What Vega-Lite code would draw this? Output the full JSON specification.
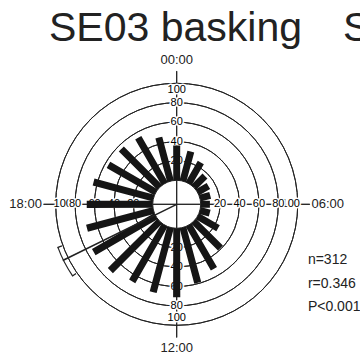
{
  "$schema": "https://vega.github.io/schema/vega-lite/v6.json",
  "width": 353.4,
  "height": 288.6,
  "autosize": {"type": "none"},
  "padding": {"left": 0, "top": 60, "right": 6.6, "bottom": 9.4},
  "background": "white",
  "title": {"text": "SE03 basking\u2002\u2002S", "anchor": "start", "frame": "group", "dx": 49, "fontSize": 41, "font": "Liberation Sans", "fontWeight": "normal", "color": "#222", "baseline": "alphabetic", "offset": -28},
  "config": {"view": {"stroke": null}, "font": "Liberation Sans"},
  "datasets": {
    "bars": [
      {"hour": 0, "value": 36}, {"hour": 1, "value": 31.5}, {"hour": 2, "value": 25}, {"hour": 3, "value": 16.5},
      {"hour": 4, "value": 13}, {"hour": 5, "value": 11}, {"hour": 6, "value": 9.5}, {"hour": 7, "value": 10.5},
      {"hour": 8, "value": 24.5}, {"hour": 9, "value": 39}, {"hour": 10, "value": 52}, {"hour": 11, "value": 59},
      {"hour": 12, "value": 71}, {"hour": 13, "value": 69}, {"hour": 14, "value": 67}, {"hour": 15, "value": 72},
      {"hour": 16, "value": 74}, {"hour": 17, "value": 71}, {"hour": 18, "value": 68}, {"hour": 19, "value": 64},
      {"hour": 20, "value": 56.5}, {"hour": 21, "value": 56}, {"hour": 22, "value": 54.5}, {"hour": 23, "value": 46.5}
    ],
    "rings": [{"ring": 20}, {"ring": 40}, {"ring": 60}, {"ring": 80}, {"ring": 100}],
    "axes": [{"hour": 0}, {"hour": 6}, {"hour": 12}, {"hour": 18}],
    "ringlabels": [
      {"hour": 0, "ring": 20}, {"hour": 0, "ring": 40}, {"hour": 0, "ring": 60}, {"hour": 0, "ring": 80}, {"hour": 0, "ring": 100},
      {"hour": 6, "ring": 20}, {"hour": 6, "ring": 40}, {"hour": 6, "ring": 60}, {"hour": 6, "ring": 80}, {"hour": 6, "ring": 100},
      {"hour": 12, "ring": 20}, {"hour": 12, "ring": 40}, {"hour": 12, "ring": 60}, {"hour": 12, "ring": 80}, {"hour": 12, "ring": 100},
      {"hour": 18, "ring": 20}, {"hour": 18, "ring": 40}, {"hour": 18, "ring": 60}, {"hour": 18, "ring": 80}, {"hour": 18, "ring": 100}
    ],
    "hourlabels": [{"hour": 0, "label": "00:00"}, {"hour": 6, "label": "06:00"}, {"hour": 12, "label": "12:00"}, {"hour": 18, "label": "18:00"}],
    "mean": [{"mean": 16.25, "lo": 15.7, "hi": 16.67}]
  },
  "layer": [
    {
      "data": {"name": "rings"},
      "mark": {"type": "arc", "theta": 0, "theta2": 6.2832, "filled": false, "stroke": "#222", "strokeWidth": 1},
      "encoding": {
        "radius": {"field": "ring", "type": "quantitative", "scale": {"type": "linear", "domain": [0, 100], "range": [24, 121], "zero": false, "nice": false}},
        "radius2": {"field": "ring"}
      }
    },
    {
      "data": {"name": "axes"},
      "mark": {"type": "arc", "thetaOffset": -0.0005, "theta2Offset": 0.0005, "fill": "#222", "stroke": "#222", "strokeWidth": 1},
      "encoding": {
        "theta": {"field": "hour", "type": "quantitative", "stack": null, "scale": {"type": "linear", "domain": [0, 24], "range": [0, 6.283185307179586], "zero": true, "nice": false}},
        "theta2": {"field": "hour"},
        "radius": {"datum": 112.5, "type": "quantitative"},
        "radius2": {"value": 0}
      }
    },
    {
      "data": {"name": "ringlabels"},
      "transform": [{"filter": "datum.ring == 100"}],
      "mark": {"type": "text", "fontSize": 11, "fill": "white", "stroke": "white", "strokeWidth": 3, "strokeJoin": "round", "radiusOffset": -7},
      "encoding": {
        "theta": {"field": "hour", "type": "quantitative", "stack": null},
        "radius": {"field": "ring", "type": "quantitative"},
        "text": {"field": "ring", "type": "quantitative"}
      }
    },
    {
      "data": {"name": "ringlabels"},
      "transform": [{"filter": "datum.ring == 100"}],
      "mark": {"type": "text", "fontSize": 11, "color": "black", "fill": "black", "strokeWidth": 0, "radiusOffset": -7},
      "encoding": {
        "theta": {"field": "hour", "type": "quantitative", "stack": null},
        "radius": {"field": "ring", "type": "quantitative"},
        "text": {"field": "ring", "type": "quantitative"}
      }
    },
    {
      "data": {"name": "ringlabels"},
      "transform": [{"filter": "datum.ring < 100"}],
      "mark": {"type": "text", "fontSize": 11, "fill": "white", "stroke": "white", "strokeWidth": 3, "strokeJoin": "round"},
      "encoding": {
        "theta": {"field": "hour", "type": "quantitative", "stack": null},
        "radius": {"field": "ring", "type": "quantitative"},
        "text": {"field": "ring", "type": "quantitative"}
      }
    },
    {
      "data": {"name": "ringlabels"},
      "transform": [{"filter": "datum.ring < 100"}],
      "mark": {"type": "text", "fontSize": 11, "color": "black", "fill": "black", "strokeWidth": 0},
      "encoding": {
        "theta": {"field": "hour", "type": "quantitative", "stack": null},
        "radius": {"field": "ring", "type": "quantitative"},
        "text": {"field": "ring", "type": "quantitative"}
      }
    },
    {
      "data": {"name": "hourlabels"},
      "transform": [{"filter": "datum.hour == 0 || datum.hour == 12"}],
      "mark": {"type": "text", "fontSize": 13, "fill": "#222"},
      "encoding": {
        "theta": {"field": "hour", "type": "quantitative", "stack": null},
        "radius": {"datum": 123.7, "type": "quantitative"},
        "text": {"field": "label"}
      }
    },
    {
      "data": {"name": "hourlabels"},
      "transform": [{"filter": "datum.hour == 6 || datum.hour == 18"}],
      "mark": {"type": "text", "fontSize": 13, "fill": "#222"},
      "encoding": {
        "theta": {"field": "hour", "type": "quantitative", "stack": null},
        "radius": {"datum": 131, "type": "quantitative"},
        "text": {"field": "label"}
      }
    },
    {
      "data": {"name": "bars"},
      "mark": {"type": "arc", "thetaOffset": -0.002, "theta2Offset": 0.002, "fill": "#151515", "stroke": "#151515", "strokeWidth": 6.8, "strokeJoin": "miter", "radiusOffset": -3.4},
      "encoding": {
        "theta": {"field": "hour", "type": "quantitative", "stack": null},
        "theta2": {"field": "hour"},
        "radius": {"field": "value", "type": "quantitative"},
        "radius2": {"datum": 0}
      }
    },
    {
      "data": {"name": "mean"},
      "mark": {"type": "arc", "theta": 0, "theta2": 6.2832, "fill": "white", "stroke": "#222", "strokeWidth": 1},
      "encoding": {
        "radius": {"datum": 0, "type": "quantitative"},
        "radius2": {"value": 0}
      }
    },
    {
      "data": {"name": "axes"},
      "mark": {"type": "arc", "thetaOffset": -0.001, "theta2Offset": 0.001, "fill": "#222", "stroke": "#222", "strokeWidth": 1},
      "encoding": {
        "theta": {"field": "hour", "type": "quantitative", "stack": null},
        "theta2": {"field": "hour"},
        "radius": {"datum": 0, "type": "quantitative"},
        "radius2": {"value": 0}
      }
    },
    {
      "data": {"name": "mean"},
      "mark": {"type": "arc", "thetaOffset": -0.0005, "theta2Offset": 0.0005, "fill": "#222", "stroke": "#222", "strokeWidth": 1.5},
      "encoding": {
        "theta": {"field": "mean", "type": "quantitative", "stack": null},
        "theta2": {"field": "mean"},
        "radius": {"datum": 105.5, "type": "quantitative"},
        "radius2": {"value": 0}
      }
    },
    {
      "data": {"name": "mean"},
      "mark": {"type": "arc", "filled": false, "stroke": "#222", "strokeWidth": 1.2},
      "encoding": {
        "theta": {"field": "lo", "type": "quantitative", "stack": null},
        "theta2": {"field": "hi"},
        "radius": {"datum": 105.5, "type": "quantitative"},
        "radius2": {"datum": 105.5}
      }
    },
    {
      "data": {"name": "mean"},
      "mark": {"type": "arc", "thetaOffset": -0.0005, "theta2Offset": 0.0005, "fill": "#222", "stroke": "#222", "strokeWidth": 1.2},
      "encoding": {
        "theta": {"field": "lo", "type": "quantitative", "stack": null},
        "theta2": {"field": "lo"},
        "radius": {"datum": 105.5, "type": "quantitative"},
        "radius2": {"datum": 101.8}
      }
    },
    {
      "data": {"name": "mean"},
      "mark": {"type": "arc", "thetaOffset": -0.0005, "theta2Offset": 0.0005, "fill": "#222", "stroke": "#222", "strokeWidth": 1.2},
      "encoding": {
        "theta": {"field": "hi", "type": "quantitative", "stack": null},
        "theta2": {"field": "hi"},
        "radius": {"datum": 105.5, "type": "quantitative"},
        "radius2": {"datum": 101.8}
      }
    },
    {
      "data": {"name": "mean"},
      "mark": {"type": "text", "fontSize": 14, "fill": "#222", "align": "left", "baseline": "alphabetic", "lineHeight": 23.5},
      "encoding": {
        "theta": {"datum": 7.633, "type": "quantitative"},
        "radius": {"datum": 123.9, "type": "quantitative"},
        "text": {"value": ["n=312", "r=0.346", "P<0.001"]}
      }
    }
  ]
}
